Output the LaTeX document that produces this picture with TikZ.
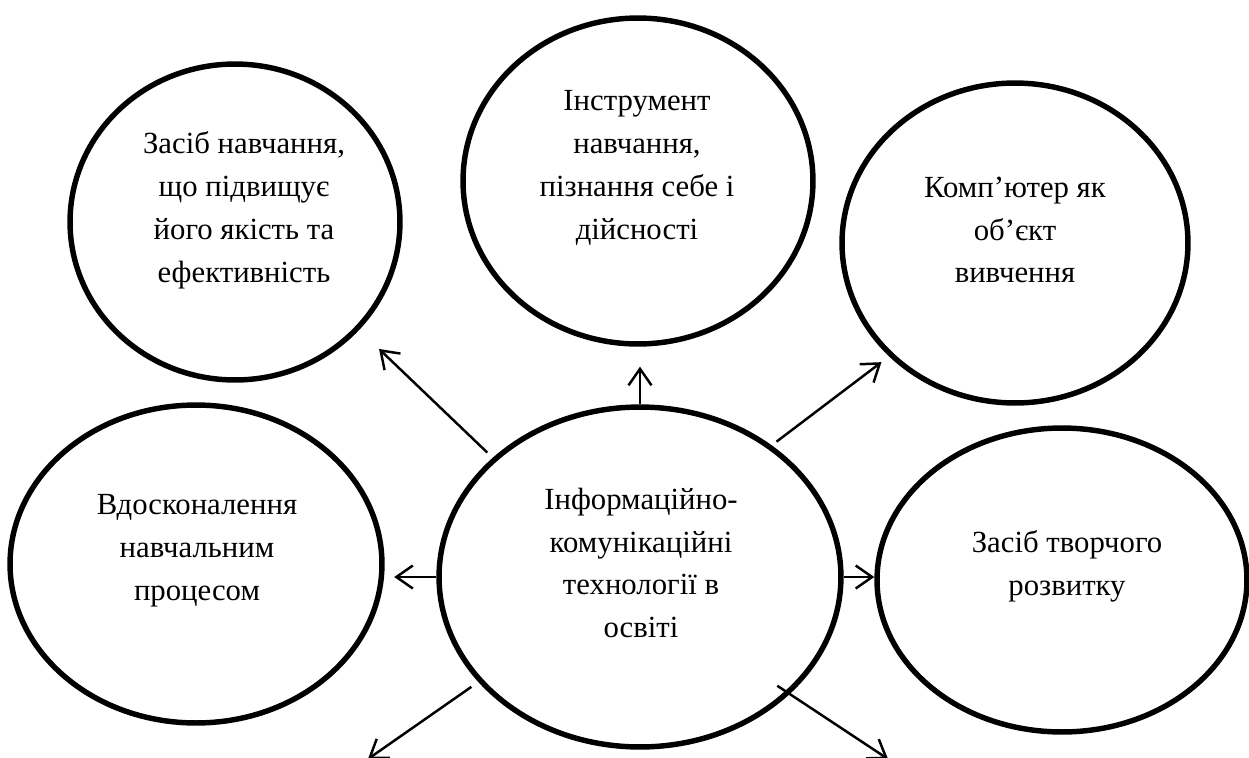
\documentclass[tikz,border=0pt]{standalone}
\usepackage{fontspec}
\setmainfont{LiberationSerif}[Extension=.ttf, UprightFont=*-Regular, BoldFont=*-Bold]
\usetikzlibrary{shapes.geometric, arrows.meta}

\begin{document}
\begin{tikzpicture}[
		x=0.02cm, y=-0.02cm,
		>={Straight Barb[length=3.3mm, width=4.6mm]},
		bubble/.style={ellipse, draw, line width=3.1pt, inner sep=0pt},
		caption/.style={align=center, inner sep=0pt, font=\fontsize{17.5}{24.4}\selectfont},
		link/.style={->, line width=1.4pt}
		]
		
		\useasboundingbox (0,0) rectangle (1249,758);
		\clip (0,0) rectangle (1249,758);
		
		% ==========================================
		% Centre
		% ==========================================
		\node (ikt) [bubble, minimum width=8.04cm, minimum height=6.8cm] at (640,577) {};
		\node (ikt-text) [caption] at (641,563) {Інформаційно-\\комунікаційні\\технології в\\освіті};
		
		% ==========================================
		% Outer ellipses
		% ==========================================
		\node (means) [bubble, minimum width=6.6cm, minimum height=6.32cm] at (235,222) {};
		\node (means-text) [caption] at (244,210) {Засіб навчання,\\що підвищує\\його якість та\\ефективність};
		
		\node (tool) [bubble, minimum width=7cm, minimum height=6.52cm] at (638,181) {};
		\node (tool-text) [caption] at (637,168) {Інструмент\\навчання,\\пізнання себе і\\дійсності};
		
		\node (object) [bubble, minimum width=6.92cm, minimum height=6.4cm] at (1015,243) {};
		\node (object-text) [caption] at (1015,230) {Комп’ютер як\\об’єкт\\вивчення};
		
		\node (improve) [bubble, minimum width=7.44cm, minimum height=6.36cm] at (196,564) {};
		\node (improve-text) [caption] at (197,551) {Вдосконалення\\навчальним\\процесом};
		
		\node (creative) [bubble, minimum width=7.4cm, minimum height=6.08cm] at (1062,580) {};
		\node (creative-text) [caption] at (1067,566) {Засіб творчого\\розвитку};
		
		% ==========================================
		% Arrows
		% ==========================================
		\draw[link, shorten <=0.15cm, shorten >=0.55cm] (ikt.141) -- (means.-41);
		\draw[link, shorten >=0.4cm] (ikt.north) -- (ikt.north |- tool.south);
		\draw[link, shorten <=0.12cm, shorten >=0.19cm] (ikt.45) -- (object.-138);
		\draw[link, shorten >=0.19cm] (ikt.west) -- (ikt.west -| improve.east);
		\draw[link] (ikt.east) -- (ikt.east -| creative.west);
		
		% arrows leaving the page
		\coordinate (down-left) at (368,759);
		\coordinate (down-right) at (888,759);
		\draw[link, shorten <=0.17cm] (ikt.213) -- (down-left);
		\draw[link, shorten <=-0.3cm] (ikt.-38) -- (down-right);
		
	\end{tikzpicture}
\end{document}
